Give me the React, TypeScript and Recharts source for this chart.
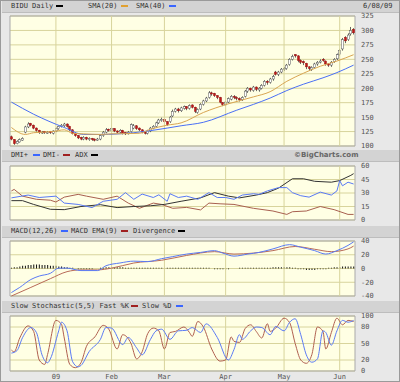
import React from 'react';
import { ComposedChart, Bar, Line, XAxis, YAxis, CartesianGrid, ReferenceLine, ReferenceArea } from 'recharts';

// BIDU daily, 12/09/08 .. 6/08/09 (day index 0..123)
const opens = [
  116, 111, 104, 107, 110, 124, 133, 139, 136, 131, 127, 123, 125, 122, 125, 122,
  126, 130, 134, 135, 138, 134, 128, 122, 118, 115, 112, 115, 111, 113, 112, 110,
  112, 118, 124, 129, 127, 130, 126, 124, 127, 123, 121, 125, 131, 135, 131, 128,
  124, 122, 126, 131, 134, 140, 144, 146, 142, 142, 152, 160, 164, 161, 165, 168,
  165, 171, 167, 158, 164, 172, 178, 184, 192, 191, 187, 184, 175, 171, 176, 181,
  186, 184, 182, 180, 186, 195, 200, 196, 202, 197, 200, 205, 212, 210, 216, 228,
  224, 228, 233, 234, 241, 250, 258, 256, 248, 246, 243, 237, 233, 236, 242, 245,
  250, 247, 242, 240, 246, 251, 259, 268, 288, 284, 294, 302,
];
const highs = [
  118, 112, 110, 113, 115, 135, 141, 140, 137, 132, 128, 126, 126, 126, 126, 127,
  132, 135, 138, 140, 139, 135, 129, 123, 119, 116, 117, 116, 115, 114, 113, 114,
  120, 126, 131, 130, 132, 131, 127, 129, 128, 124, 126, 139, 138, 136, 132, 129,
  125, 128, 133, 136, 142, 147, 149, 147, 143, 152, 163, 166, 166, 168, 170, 169,
  172, 172, 168, 165, 174, 180, 185, 195, 194, 192, 188, 185, 176, 178, 184, 188,
  188, 186, 184, 186, 197, 202, 201, 204, 203, 202, 207, 214, 214, 218, 223, 230,
  230, 235, 237, 242, 252, 258, 259, 257, 250, 248, 244, 238, 238, 244, 247, 250,
  252, 248, 243, 247, 252, 260, 268, 287, 290, 295, 306, 304,
];
const lows = [
  110, 102, 103, 106, 109, 122, 131, 134, 129, 125, 121, 121, 121, 121, 121, 120,
  124, 128, 132, 133, 132, 126, 120, 116, 112, 110, 110, 110, 109, 109, 108, 109,
  110, 116, 122, 125, 125, 124, 122, 122, 120, 119, 120, 123, 129, 128, 126, 122,
  120, 120, 124, 129, 132, 138, 142, 140, 135, 140, 150, 158, 158, 159, 163, 162,
  163, 165, 157, 156, 162, 170, 176, 182, 187, 185, 181, 174, 169, 169, 174, 179,
  181, 179, 177, 178, 184, 192, 194, 194, 195, 194, 198, 203, 206, 208, 213, 222,
  221, 226, 230, 232, 239, 248, 253, 245, 242, 240, 233, 230, 230, 234, 239, 243,
  246, 239, 237, 237, 244, 249, 256, 265, 278, 282, 291, 293,
];
const closes = [
  112, 104, 108, 111, 113, 133, 138, 136, 131, 127, 124, 124, 123, 124, 123, 126,
  130, 134, 136, 138, 134, 128, 122, 118, 114, 112, 115, 112, 113, 111, 110, 112,
  118, 124, 128, 127, 130, 126, 124, 127, 122, 121, 124, 137, 135, 130, 128, 124,
  122, 126, 131, 134, 140, 145, 146, 142, 137, 150, 160, 164, 161, 166, 168, 165,
  170, 167, 160, 163, 172, 178, 183, 192, 190, 187, 184, 176, 172, 176, 182, 186,
  184, 182, 180, 184, 195, 200, 197, 202, 198, 200, 205, 212, 210, 216, 220, 224,
  228, 233, 234, 240, 250, 255, 256, 248, 245, 244, 237, 234, 236, 242, 245, 247,
  248, 242, 240, 245, 250, 258, 265, 284, 282, 292, 300, 296,
];

// [day index, value]
const sma20: [number, number][] = [
  [0, 132], [5, 120], [8, 123], [15, 125], [19, 128], [22, 122], [26, 121], [32, 120],
  [36, 121], [46, 122], [50, 129], [56, 136], [61, 140], [69, 158], [78, 173], [87, 185],
  [93, 194], [99, 212], [105, 226], [111, 238], [117, 247], [123, 258],
];
const sma40: [number, number][] = [
  [0, 176], [8, 155], [19, 132], [26, 120], [32, 120], [44, 123], [56, 131], [61, 135],
  [69, 141], [81, 162], [87, 172], [93, 183], [99, 196], [105, 207], [112, 218], [117, 227],
  [123, 240],
];
const dmiPlus: [number, number][] = [
  [0, 24.6], [6, 27.7], [10, 25], [16, 26.5], [19, 18.8], [24, 17.3], [29, 13.8], [33, 20.8],
  [38, 23], [41, 30.4], [44, 23], [47, 28.8], [51, 25], [53, 28], [56, 20.8], [57, 29.2],
  [60, 25], [63, 26.5], [67, 23], [71, 30.4], [74, 25], [77, 25], [80, 23], [83, 27.7],
  [87, 29.2], [89, 28.5], [92, 32.3], [96, 36], [99, 36], [101, 30.4], [104, 27], [107, 25.4],
  [111, 31], [115, 27.7], [117, 32.3], [118, 43.8], [119, 38], [121, 42], [123, 40],
];
const dmiMinus: [number, number][] = [
  [0, 32.3], [1, 34], [4, 26.5], [9, 23], [14, 22], [16, 20], [19, 25.4], [24, 28.5],
  [27, 26.5], [33, 23], [38, 26.5], [42, 18.8], [46, 13], [51, 18.8], [54, 17.3], [58, 13],
  [63, 14], [68, 11.2], [71, 18.8], [75, 18], [80, 17.3], [87, 13], [94, 10], [99, 6.2],
  [101, 9.2], [106, 10], [111, 15], [116, 11.5], [121, 6.2], [123, 6.2],
];
const adx: [number, number][] = [
  [0, 21.5], [4, 21.5], [8, 17.3], [14, 11.9], [19, 11.5], [25, 15], [32, 17], [38, 13.8],
  [44, 15], [50, 15.8], [55, 17.3], [61, 20.8], [68, 24.6], [73, 30.4], [78, 26.5], [82, 24.6],
  [88, 27.7], [92, 30.4], [96, 35.4], [101, 45.8], [105, 45.8], [109, 43], [115, 42], [118, 43.8],
  [122, 49.6], [123, 51.5],
];
const macd: [number, number][] = [
  [0, -35], [3, -27.5], [7, -16], [10, -11], [14, -7], [17, 0.5], [20, 0.5], [25, -3],
  [31, -3], [34, 4], [39, 8], [44, 10.7], [49, 10], [54, 14.3], [58, 17.3], [63, 21],
  [68, 23.4], [73, 26], [76, 22.4], [80, 18], [85, 21], [89, 23.4], [94, 28.5], [100, 34.7],
  [104, 31], [109, 26], [113, 21], [117, 26], [121, 33.6], [123, 38.7],
];
const macdEma: [number, number][] = [
  [0, -40], [7, -27.5], [14, -14.8], [20, -4.6], [25, -2], [31, -2], [36, 0.5], [44, 8],
  [54, 12], [63, 19], [73, 24.5], [80, 21], [87, 22.4], [94, 26], [102, 32], [109, 28],
  [115, 24.5], [121, 28.5], [123, 32.6],
];
const divergence = [
  1, 2, 2, 3, 4, 4, 5, 5, 6, 6, 6, 5, 5, 5, 4, 4,
  4, 3, 3, 2, 2, 1, 1,
  0, -1, -1, -1, -1, -1, -1, 0, 0, 1, 1,
  2, 2, 2, 2, 2, 2, 2, 1, 1, 1, 1, 1,
  1, 1, 1, 1, 1, 1, 1, 1, 1, 1, 1, 1, 1, 1, 1, 1, 1, 1, 1, 1, 1, 1, 1, 1, 1, 1, 0,
  -1, -1, -1, -1, -1, -1, 0, 0,
  0, 1, 1, 1, 1, 1, 1, 1, 1, 1, 1, 1, 1,
  2, 2, 2, 2, 2, 2, 2, 1, 1,
  -1, -1, -1, -2, -2, -2, -2, -1, -1, -1, -1,
  1, 1, 2, 2, 2, 3, 3, 3, 3, 3,
];
const fastK: [number, number][] = [
  [0, 38], [1, 35], [3, 60], [6, 82], [8, 72], [10, 20], [12, 12], [13, 30], [16, 92], [18, 85],
  [19, 60], [21, 12], [23, 6], [25, 15], [27, 45], [30, 62], [33, 83], [35, 76], [38, 40], [40, 66],
  [43, 50], [45, 22], [47, 35], [49, 68], [51, 78], [53, 73], [55, 40], [57, 70], [59, 72], [62, 80],
  [64, 70], [65, 63], [67, 90], [69, 80], [72, 40], [75, 18], [77, 20], [79, 62], [80, 54], [82, 52],
  [84, 77], [86, 84], [88, 72], [90, 60], [92, 86], [93, 72], [95, 78], [98, 96], [100, 88], [102, 50],
  [104, 20], [106, 14], [108, 30], [110, 80], [112, 72], [113, 40], [115, 70], [117, 96], [119, 84],
  [121, 92], [123, 90],
];
const slowD: [number, number][] = [
  [0, 32.5], [2, 37], [4, 60.6], [7, 79], [9, 70], [11, 29.4], [13, 15], [14, 22], [17, 73], [18, 88.7],
  [20, 73], [22, 17], [24, 7.5], [25, 10], [28, 35.6], [32, 57.6], [34, 79], [36, 78], [40, 48], [42, 61],
  [45, 42], [47, 29.4], [50, 57.6], [52, 73], [54, 76], [57, 57.6], [60, 73], [63, 74], [65, 79], [68, 70],
  [70, 85.7], [74, 61], [78, 20], [80, 39], [82, 66], [83, 57.6], [86, 73], [88, 80], [90, 79], [93, 66],
  [95, 81], [98, 73], [100, 88.7], [102, 95], [104, 66], [106, 29.4], [108, 16], [110, 22], [112, 73],
  [113, 70], [115, 47], [117, 73], [119, 92], [121, 88.7], [123, 92],
];
const monthIdx = [16, 36, 55, 77, 98, 118];
const monthLabels = ['09', 'Feb', 'Mar', 'Apr', 'May', 'Jun'];

const candleRows = closes.map((c, i) => ({ i, o: opens[i], h: highs[i], l: lows[i], c, range: [lows[i], highs[i]] }));
const divRows = divergence.map((d, i) => ({ i, d }));
const pts = (a: [number, number][]) => a.map(([i, v]) => ({ i, v }));

const GRID = '#d8d49c';
const BG = '#ffffe4';
const FRAME = '#a9a9a9';
const MONO = "'DejaVu Sans Mono', monospace";
const tickStyle = { fontFamily: MONO, fontSize: 7, fill: '#555' };
const X_DOMAIN: [number, number] = [-0.5, 123.5];

const Candle = (props: any) => {
  const { x, y, width, height, payload } = props;
  const { o, c, h, l } = payload;
  const k = height / (h - l || 1);
  const top = y + (h - Math.max(o, c)) * k;
  const bot = y + (h - Math.min(o, c)) * k;
  const cx = Math.round(x + width / 2) + 0.5;
  const up = c >= o;
  return (
    <g>
      <line x1={cx} x2={cx} y1={y} y2={y + height} stroke="#444" strokeWidth={0.8} />
      <rect x={cx - 1} y={top} width={2} height={Math.max(bot - top, 1)}
        fill={up ? '#ffffff' : '#c01818'} stroke={up ? '#555' : '#9a1010'} strokeWidth={0.5} />
    </g>
  );
};

const frame = (y1: number, y2: number) => (
  <ReferenceArea x1={X_DOMAIN[0]} x2={X_DOMAIN[1]} y1={y1} y2={y2} fill="none" stroke={FRAME} strokeOpacity={1} />
);
const monthLines = () =>
  monthIdx.map((m) => <ReferenceLine key={m} x={m} stroke={GRID} strokeWidth={1} />);

const Strip = ({ top, children }: { top: number; children?: React.ReactNode }) => (
  <div style={{ position: 'absolute', left: 1, width: 398, top, height: 11, background: '#d3d3d3', borderBottom: '1px solid #bdbdbd' }}>
    {children}
  </div>
);
const Txt = ({ left, children, bold }: { left: number; children: React.ReactNode; bold?: boolean }) => (
  <span style={{ position: 'absolute', left, top: 1, fontFamily: bold ? "'DejaVu Sans', sans-serif" : MONO, fontSize: 7, lineHeight: '9px', fontWeight: bold ? 700 : 400, color: bold ? '#666' : '#333', whiteSpace: 'nowrap' }}>
    {children}
  </span>
);
const Swatch = ({ left, color }: { left: number; color: string }) => (
  <span style={{ position: 'absolute', left, top: 4, width: 7, height: 2, background: color }} />
);

export default function App() {
  const chartStyle = { position: 'absolute' as const, left: 0 };
  return (
    <div style={{ position: 'fixed', left: 0, top: 0, width: 398, height: 380, background: '#e8e8e8', border: '1px solid #9a9a9a', overflow: 'hidden' }}>
      <Strip top={0}>
        <Txt left={9}>BIDU Daily</Txt>
        <Swatch left={54} color="#000" />
        <Txt left={86}>SMA(20)</Txt>
        <Swatch left={119} color="#e0a030" />
        <Txt left={134}>SMA(40)</Txt>
        <Swatch left={167} color="#3a66ff" />
        <Txt left={361}>6/08/09</Txt>
      </Strip>

      <div style={{ ...chartStyle, top: 0 }}>
        <ComposedChart width={400} height={150} data={candleRows} margin={{ top: 15, right: 0, left: 9, bottom: 5 }}>
          <CartesianGrid vertical={false} stroke={GRID} fill={BG} />
          <XAxis dataKey="i" type="number" domain={X_DOMAIN} hide />
          <YAxis orientation="right" width={46} type="number" domain={[100, 325]} ticks={[100, 125, 150, 175, 200, 225, 250, 275, 300, 325]}
            interval={0} axisLine={false} tickLine={false} tickSize={4} tickMargin={2} tick={tickStyle} />
          {monthLines()}
          <Line data={pts(sma40)} dataKey="v" type="monotone" stroke="#4a6ff5" strokeWidth={1} dot={false} isAnimationActive={false} />
          <Line data={pts(sma20)} dataKey="v" type="monotone" stroke="#d9a552" strokeWidth={1} dot={false} isAnimationActive={false} />
          <Bar dataKey="range" barSize={2} shape={Candle} isAnimationActive={false} />
          {frame(100, 325)}
        </ComposedChart>
      </div>

      <Strip top={149}>
        <Txt left={9}>DMI+</Txt>
        <Swatch left={31} color="#3a66ff" />
        <Txt left={41}>DMI-</Txt>
        <Swatch left={61} color="#a02020" />
        <Txt left={73}>ADX</Txt>
        <Swatch left={89} color="#000" />
        <Txt left={292} bold>©BigCharts.com</Txt>
      </Strip>

      <div style={{ ...chartStyle, top: 160 }}>
        <ComposedChart width={400} height={62} data={divRows} margin={{ top: 5, right: 0, left: 9, bottom: 3 }}>
          <CartesianGrid vertical={false} stroke={GRID} fill={BG} />
          <XAxis dataKey="i" type="number" domain={X_DOMAIN} hide />
          <YAxis orientation="right" width={46} type="number" domain={[0, 60]} ticks={[0, 15, 30, 45, 60]}
            interval={0} axisLine={false} tickLine={false} tickSize={4} tickMargin={2} tick={tickStyle} />
          {monthLines()}
          <Line data={pts(dmiMinus)} dataKey="v" type="linear" stroke="#a86050" strokeWidth={1} dot={false} isAnimationActive={false} />
          <Line data={pts(adx)} dataKey="v" type="linear" stroke="#333" strokeWidth={1} dot={false} isAnimationActive={false} />
          <Line data={pts(dmiPlus)} dataKey="v" type="linear" stroke="#5a7af5" strokeWidth={1} dot={false} isAnimationActive={false} />
          {frame(0, 60)}
        </ComposedChart>
      </div>

      <Strip top={225}>
        <Txt left={9}>MACD(12,26)</Txt>
        <Swatch left={59} color="#3a66ff" />
        <Txt left={69}>MACD EMA(9)</Txt>
        <Swatch left={119} color="#a02020" />
        <Txt left={131}>Divergence</Txt>
        <Swatch left={176} color="#000" />
      </Strip>

      <div style={{ ...chartStyle, top: 236 }}>
        <ComposedChart width={400} height={62} data={divRows} margin={{ top: 4, right: 0, left: 9, bottom: 3 }}>
          <CartesianGrid vertical={false} stroke={GRID} fill={BG} />
          <XAxis dataKey="i" type="number" domain={X_DOMAIN} hide />
          <YAxis orientation="right" width={46} type="number" domain={[-40, 40]} ticks={[-40, -20, 0, 20, 40]}
            interval={0} axisLine={false} tickLine={false} tickSize={4} tickMargin={2} tick={tickStyle} />
          {monthLines()}
          <Bar dataKey="d" barSize={1} fill="#111" isAnimationActive={false} />
          <Line data={pts(macdEma)} dataKey="v" type="monotone" stroke="#b86a58" strokeWidth={1} dot={false} isAnimationActive={false} />
          <Line data={pts(macd)} dataKey="v" type="monotone" stroke="#5a7af5" strokeWidth={1} dot={false} isAnimationActive={false} />
          {frame(-40, 40)}
        </ComposedChart>
      </div>

      <Strip top={300}>
        <Txt left={9}>Slow Stochastic(5,5) Fast %K</Txt>
        <Swatch left={129} color="#a02020" />
        <Txt left={140}>Slow %D</Txt>
        <Swatch left={174} color="#3a66ff" />
      </Strip>

      <div style={{ ...chartStyle, top: 310 }}>
        <ComposedChart width={400} height={72} data={divRows} margin={{ top: 5, right: 0, left: 9, bottom: 0 }}>
          <CartesianGrid vertical={false} stroke={GRID} fill={BG} />
          <XAxis dataKey="i" type="number" domain={X_DOMAIN} ticks={monthIdx} interval={0} height={12}
            axisLine={false} tickLine={false} tickSize={2} tickMargin={1} tick={tickStyle}
            tickFormatter={(v: number) => monthLabels[monthIdx.indexOf(v)] ?? ''} />
          <YAxis orientation="right" width={46} type="number" domain={[0, 100]} ticks={[0, 20, 50, 80, 100]}
            interval={0} axisLine={false} tickLine={false} tickSize={4} tickMargin={2} tick={tickStyle} />
          {monthLines()}
          <Line data={pts(fastK)} dataKey="v" type="monotone" stroke="#b06050" strokeWidth={1} dot={false} isAnimationActive={false} />
          <Line data={pts(slowD)} dataKey="v" type="monotone" stroke="#5a7af5" strokeWidth={1} dot={false} isAnimationActive={false} />
          {frame(0, 100)}
        </ComposedChart>
      </div>
    </div>
  );
}
